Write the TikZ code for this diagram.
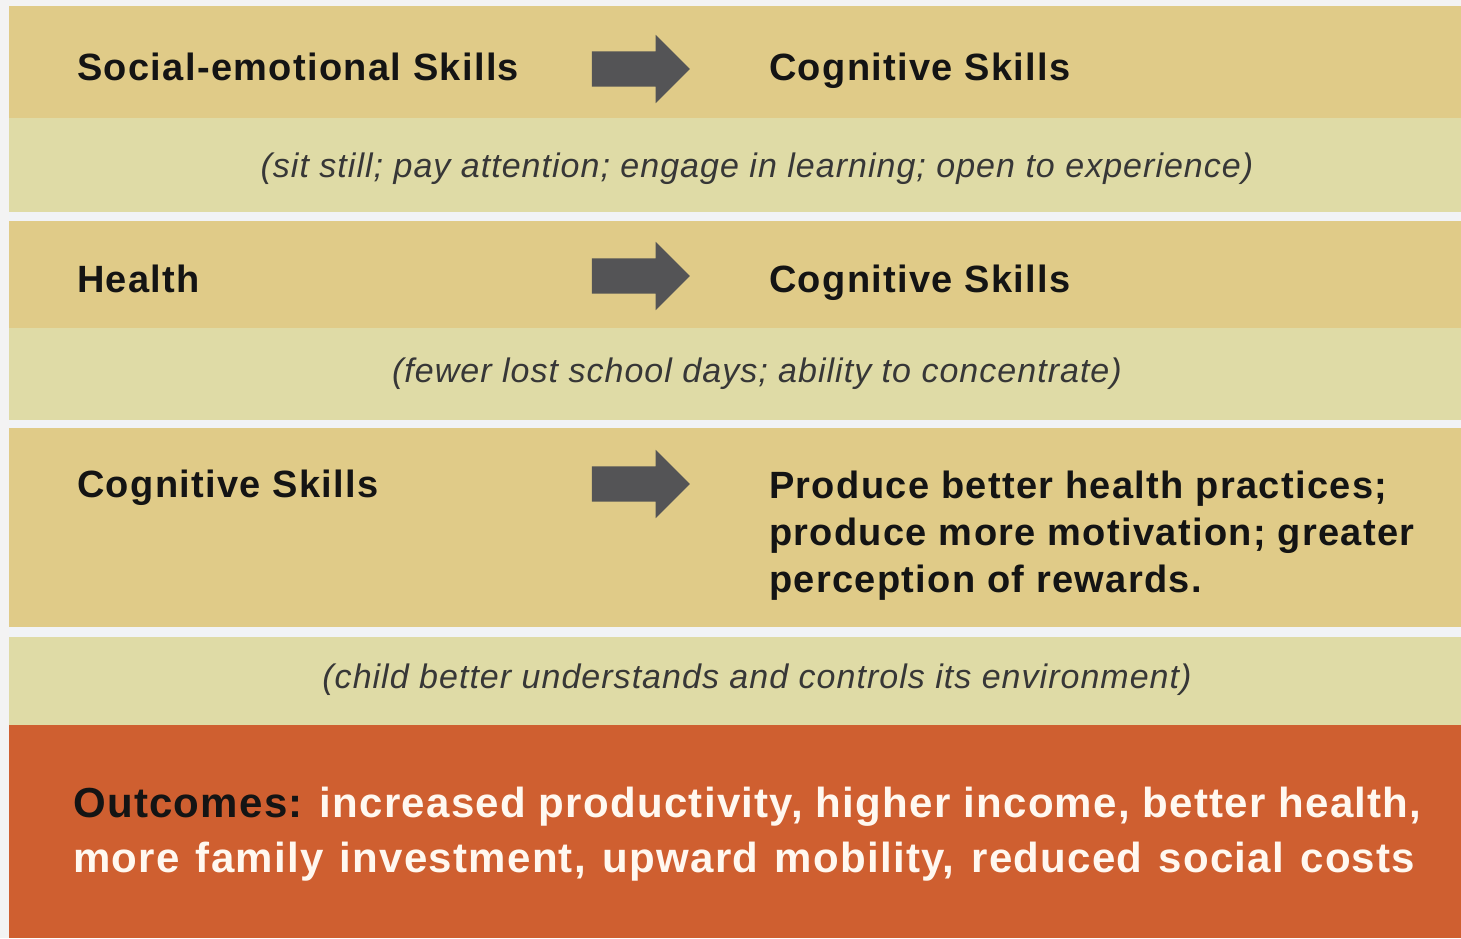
\documentclass[tikz,border=0pt]{standalone}
\usepackage{fontspec}
\setmainfont{Liberation Sans}
\usetikzlibrary{shapes.arrows}

\definecolor{pagegray}{HTML}{F3F3F3}
\definecolor{gapwhite}{HTML}{F1F3F6}
\definecolor{tandark}{HTML}{E0CB88}
\definecolor{tanlight}{HTML}{DFDBA6}
\definecolor{outorange}{HTML}{CF5F30}
\definecolor{arrowgray}{HTML}{545456}
\definecolor{inkblack}{HTML}{141414}
\definecolor{outwhite}{HTML}{FFF8F0}

\newcommand{\headfont}{\fontsize{38}{47}\selectfont\bfseries\addfontfeature{LetterSpace=3.5}}
\newcommand{\notefont}{\fontsize{34}{40}\selectfont\itshape\addfontfeature{LetterSpace=3}}
\newcommand{\outfont}{\fontsize{42}{55}\selectfont\bfseries\addfontfeature{LetterSpace=3}}

\tikzset{
  skill/.style={anchor=base west, inner sep=0pt, text=inkblack, font=\headfont},
  note/.style={anchor=base, inner sep=0pt, text=inkblack!85, font=\notefont},
  blockarrow/.style={single arrow, fill=arrowgray, inner xsep=0pt,
    inner ysep=17.5pt, minimum height=98pt,
    single arrow head extend=16.5pt, single arrow head indent=0pt},
}

\begin{document}
\begin{tikzpicture}[x=1pt, y=-1pt]
    \useasboundingbox (0,0) rectangle (1461,938);
    \fill[pagegray] (0,0) rectangle (1461,938);
    \fill[gapwhite] (9,6) rectangle (1461,938);

    % bands
    \fill[tandark] (9,6) rectangle (1461,118);
    \fill[tanlight] (9,118) rectangle (1461,212);
    \fill[tandark] (9,221) rectangle (1461,328);
    \fill[tanlight] (9,328) rectangle (1461,420);
    \fill[tandark] (9,428) rectangle (1461,627);
    \fill[tanlight] (9,637) rectangle (1461,725);
    \fill[outorange] (9,725) rectangle (1461,938);

    % first row
    \node[skill] (social) at (77,80) {Social-emotional Skills};
    \node[blockarrow] (arrA) at (632,69) {};
    \node[skill] (cogA) at (769,80) {Cognitive Skills};
    \node[note] (noteA) at (757,177)
        {(sit still; pay attention; engage in learning; open to experience)};

    % second row
    \node[skill] (health) at (77,292) {Health};
    \node[blockarrow] (arrB) at (632,276) {};
    \node[skill] (cogB) at (769,292) {Cognitive Skills};
    \node[note] (noteB) at (757,382)
        {(fewer lost school days; ability to concentrate)};

    % third row (base anchor sits on the last line)
    \node[skill] (cogC) at (77,497) {Cognitive Skills};
    \node[blockarrow] (arrC) at (632,484) {};
    \node[skill, align=left] (produce) at (769,592)
        {Produce better health practices;\\
         produce more motivation; greater\\
         perception of rewards.};
    \node[note] (noteC) at (757,688)
        {(child better understands and controls its environment)};

    % outcomes
    \node[anchor=base west, inner sep=0pt, align=left, text=outwhite,
          font=\outfont] (outcomes) at (73,872)
        {\textcolor{inkblack}{Outcomes:} increased productivity, higher income, better health,\\
         \makebox[1342pt][s]{more family investment, upward mobility, reduced social costs}};
\end{tikzpicture}
\end{document}
